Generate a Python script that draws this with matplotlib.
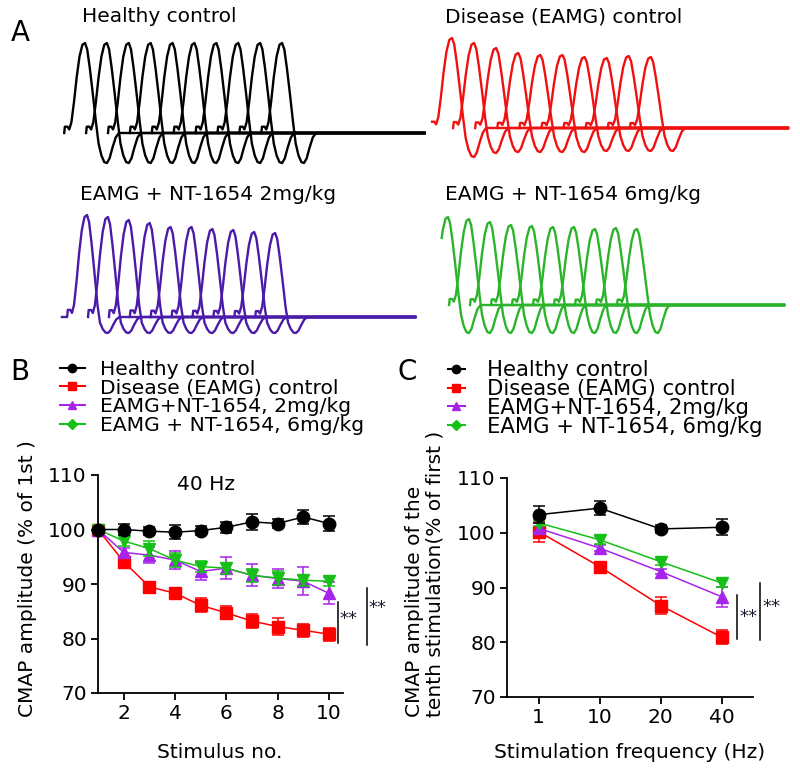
import numpy as np
import matplotlib
matplotlib.use("Agg")
import matplotlib.pyplot as plt
from matplotlib.lines import Line2D

W, H = 800, 777

# ------------------------------------------------------------------ data
series_labels = ["Healthy control", "Disease (EAMG) control",
                 "EAMG+NT-1654, 2mg/kg", "EAMG + NT-1654, 6mg/kg"]
trace_titles = ["Healthy control", "Disease (EAMG) control",
                "EAMG + NT-1654 2mg/kg", "EAMG + NT-1654 6mg/kg"]

# Panel A: peak and trough amplitudes (arbitrary units) of the 10 CMAP responses
healthy_peaks = [90, 90, 90, 90, 90, 90, 90, 90, 90, 90]
healthy_troughs = [30, 30, 30, 30, 30, 30, 30, 30, 30, 30]
eamg_peaks = [90, 85, 80, 75, 73, 73, 71, 70, 72, 71]
eamg_troughs = [29, 25, 24, 24, 24, 24, 23, 23, 23, 23]
nt2_peaks = [102, 100, 97, 94, 90, 90, 88, 87, 85, 84]
nt2_troughs = [16, 16, 16, 16, 16, 16, 16, 16, 16, 16]
nt6_peaks = [88, 86, 83, 80, 79, 78, 78, 76, 77, 76]
nt6_troughs = [28, 28, 28, 28, 28, 28, 28, 28, 28, 28]

# single CMAP waveform shape (time in inter-stimulus intervals,
# value as fraction of peak (positive) or trough (negative))
wave_t = [-0.95, -0.92, -0.80, -0.72, -0.62, -0.50, -0.38, -0.25, -0.12, 0.0,
          0.10, 0.22, 0.35, 0.50, 0.62, 0.75, 0.88, 1.00, 1.12, 1.25, 1.40, 1.55]
wave_v = [0.0, 0.07, 0.07, 0.04, 0.12, 0.35, 0.62, 0.85, 0.98, 1.0,
          0.93, 0.72, 0.45, 0.12, -0.35, -0.75, -0.97, -1.0, -0.85, -0.5, -0.15, 0.0]
sweep_first_start = [-0.95, -0.90, -1.20, -0.30]
record_end = [15.5, 15.2, 15.7, 16.0]

# Panel B: 40 Hz, stimulus 1..10 (% of 1st)
stim_no = [1, 2, 3, 4, 5, 6, 7, 8, 9, 10]
b_healthy = [100.0, 100.0, 99.7, 99.5, 99.8, 100.4, 101.4, 101.1, 102.3, 101.1]
b_healthy_err = [0.0, 1.0, 0.8, 1.3, 0.8, 1.0, 1.4, 0.8, 1.2, 1.4]
b_eamg = [100.0, 94.1, 89.5, 88.3, 86.1, 84.7, 83.2, 82.2, 81.5, 80.8]
b_eamg_err = [0.0, 0.8, 0.5, 0.9, 1.3, 1.2, 1.3, 1.5, 1.2, 1.2]
b_nt2 = [100.0, 95.8, 95.3, 94.4, 92.3, 92.9, 91.6, 91.0, 90.5, 88.3]
b_nt2_err = [0.0, 0.8, 1.5, 1.7, 1.5, 2.0, 2.0, 1.8, 2.6, 2.0]
b_nt6 = [100.0, 97.9, 96.5, 94.4, 93.2, 92.9, 91.6, 91.1, 90.7, 90.5]
b_nt6_err = [0.0, 1.0, 1.3, 1.2, 1.0, 1.0, 1.2, 1.2, 1.0, 0.8]

# Panel C: tenth stimulation (% of first) vs stimulation frequency
freq_labels = ["1", "10", "20", "40"]
c_healthy = [103.3, 104.5, 100.7, 101.0]
c_healthy_err = [1.5, 1.3, 0.7, 1.5]
c_eamg = [100.2, 93.8, 86.7, 80.9]
c_eamg_err = [1.8, 0.8, 1.6, 1.3]
c_nt2 = [100.8, 97.2, 92.9, 88.3]
c_nt2_err = [1.0, 0.5, 0.5, 1.8]
c_nt6 = [101.8, 98.7, 94.7, 90.8]
c_nt6_err = [0.5, 0.7, 0.5, 0.7]

# ------------------------------------------------------------------ style
plt.rcParams['font.family'] = ['DejaVu Sans']
C_BLACK = "#000000"
C_RED = "#ff0000"
C_PURPLE = "#a724ec"
C_GREEN = "#16c016"
TRACE_COLORS = ["#000000", "#f01010", "#4a1aa8", "#2ab42a"]

fig = plt.figure(figsize=(W / 100, H / 100), dpi=100)


def fbox(l, r, t, b):
    return [l / W, 1 - b / H, (r - l) / W, (b - t) / H]


def fx(px):
    return px / W


def fy(py):
    return 1 - py / H


# ------------------------------------------------------------------ panel A
trace_peaks = [healthy_peaks, eamg_peaks, nt2_peaks, nt6_peaks]
trace_troughs = [healthy_troughs, eamg_troughs, nt2_troughs, nt6_troughs]
# (first-peak x px, interval px, baseline y px) and axes boxes (l, r, t, b)
trace_geom = [(85, 21.9, 133), (452, 22.1, 128), (87, 20.9, 317), (448, 21.0, 305)]
trace_boxes = [(50, 440, 25, 178), (420, 798, 20, 172), (50, 432, 200, 345), (430, 798, 200, 345)]

wt = np.array(wave_t)
wv = np.array(wave_v)
for k in range(4):
    l, r, t, b = trace_boxes[k]
    x0, sp, y0 = trace_geom[k]
    ax = fig.add_axes(fbox(l, r, t, b))
    ax.set_xlim((l - x0) / sp, (r - x0) / sp)
    ax.set_ylim(-(b - y0), y0 - t)
    ax.axis("off")
    ax.patch.set_visible(False)
    for i in range(10):
        tt = wt + i
        vv = np.where(wv >= 0, wv * trace_peaks[k][i], wv * trace_troughs[k][i])
        if k == 3:
            start = max(i + wt[0], sweep_first_start[k])
        elif i == 0:
            start = sweep_first_start[k]
        else:
            start = i + wt[0]
        mask = tt >= start
        ts = list(tt[mask])
        vs = list(vv[mask])
        if start < tt[0]:
            ts = [start] + ts
            vs = [0.0] + vs
        elif start > tt[0]:
            ts = [start] + ts
            vs = [float(np.interp(start, tt, vv))] + vs
        ts.append(record_end[k])
        vs.append(0.0)
        ax.plot(ts, vs, color=TRACE_COLORS[k], lw=1.7, solid_joinstyle="round")

fig.text(fx(20), fy(33), "A", fontsize=20, ha="center", va="center")
title_pos = [(82, 17), (445, 17), (80, 195), (445, 195)]
for (px, py), s in zip(title_pos, trace_titles):
    fig.text(fx(px), fy(py), s, fontsize=14.5, ha="left", va="center")

# ------------------------------------------------------------------ panels B, C


def style_axes(ax):
    for s in ["top", "right"]:
        ax.spines[s].set_visible(False)
    for s in ["left", "bottom"]:
        ax.spines[s].set_linewidth(1.3)
    ax.tick_params(direction="out", length=5, width=1.3, labelsize=14.5, pad=3)
    ax.set_ylim(70, 110)
    ax.set_yticks([70, 80, 90, 100, 110])


eb_kw = dict(lw=1.1, elinewidth=1.1, capsize=4, capthick=1.1, clip_on=False)

axB = fig.add_axes(fbox(98, 343, 475, 693))
style_axes(axB)
axB.set_xlim(1, 10.55)
axB.set_xticks([2, 4, 6, 8, 10])
axB.errorbar(stim_no, b_eamg, yerr=b_eamg_err, color=C_RED, marker="s", ms=8.5, zorder=3, **eb_kw)
axB.errorbar(stim_no, b_nt2, yerr=b_nt2_err, color=C_PURPLE, marker="^", ms=9, zorder=4, **eb_kw)
axB.errorbar(stim_no, b_nt6, yerr=b_nt6_err, color=C_GREEN, marker="v", ms=9, zorder=5, **eb_kw)
axB.errorbar(stim_no, b_healthy, yerr=b_healthy_err, color=C_BLACK, marker="o", ms=9, zorder=6, **eb_kw)
axB.text(5.2, 108.2, "40 Hz", fontsize=14.5, ha="center", va="center")
# significance markers
axB.plot([10.36, 10.36], [86.7, 79.2], color="black", lw=1.1, clip_on=False)
axB.text(10.42, 83.6, "**", fontsize=13, ha="left", va="center", color="#1a1a30")
axB.plot([11.49, 11.49], [89.3, 78.8], color="black", lw=1.1, clip_on=False)
axB.text(11.55, 85.6, "**", fontsize=13, ha="left", va="center", color="#1a1a30")

axC = fig.add_axes(fbox(507, 753, 478, 697))
style_axes(axC)
xc = np.arange(len(freq_labels))
axC.set_xlim(-0.52, 3.51)
axC.set_xticks(xc)
axC.set_xticklabels(freq_labels)
axC.errorbar(xc, c_eamg, yerr=c_eamg_err, color=C_RED, marker="s", ms=8.5, zorder=3, **eb_kw)
axC.errorbar(xc, c_nt2, yerr=c_nt2_err, color=C_PURPLE, marker="^", ms=9, zorder=4, **eb_kw)
axC.errorbar(xc, c_nt6, yerr=c_nt6_err, color=C_GREEN, marker="v", ms=9, zorder=5, **eb_kw)
axC.errorbar(xc, c_healthy, yerr=c_healthy_err, color=C_BLACK, marker="o", ms=9, zorder=6, **eb_kw)
axC.plot([3.25, 3.25], [88.6, 80.6], color="black", lw=1.1, clip_on=False)
axC.text(3.29, 84.6, "**", fontsize=13, ha="left", va="center", color="#1a1a30")
axC.plot([3.62, 3.62], [90.8, 80.4], color="black", lw=1.1, clip_on=False)
axC.text(3.66, 86.4, "**", fontsize=13, ha="left", va="center", color="#1a1a30")

# axis labels
fig.text(fx(28), fy(717), "CMAP amplitude (% of 1st )", rotation=90, fontsize=14.5,
         ha="center", va="bottom")
fig.text(fx(425), fy(717), "CMAP amplitude of the\ntenth stimulation(% of first )", rotation=90,
         fontsize=14.5, ha="center", va="bottom", multialignment="left", linespacing=1.1)
fig.text(fx(220), fy(753), "Stimulus no.", fontsize=14.5, ha="center", va="center")
fig.text(fx(630), fy(753), "Stimulation frequency (Hz)", fontsize=14.5, ha="center", va="center")

fig.text(fx(20), fy(372), "B", fontsize=20, ha="center", va="center")
fig.text(fx(407), fy(372), "C", fontsize=20, ha="center", va="center")

# legends
leg_handles = [
    Line2D([], [], color=C_BLACK, marker="o", ms=6, lw=1.5),
    Line2D([], [], color=C_RED, marker="s", ms=6, lw=1.5),
    Line2D([], [], color=C_PURPLE, marker="^", ms=6, lw=1.5),
    Line2D([], [], color=C_GREEN, marker="D", ms=5.5, lw=1.5),
]
fig.legend(leg_handles, series_labels, loc="upper left", bbox_to_anchor=(fx(60), fy(360)),
           frameon=False, borderpad=0, borderaxespad=0, fontsize=14.6, labelspacing=-0.02,
           handlelength=1.23, handletextpad=0.72)
fig.legend(leg_handles, series_labels, loc="upper left", bbox_to_anchor=(fx(448), fy(360)),
           frameon=False, borderpad=0, borderaxespad=0, fontsize=15.2, labelspacing=-0.05,
           handlelength=0.8, handletextpad=1.05)

fig.savefig("out.png", dpi=100)
